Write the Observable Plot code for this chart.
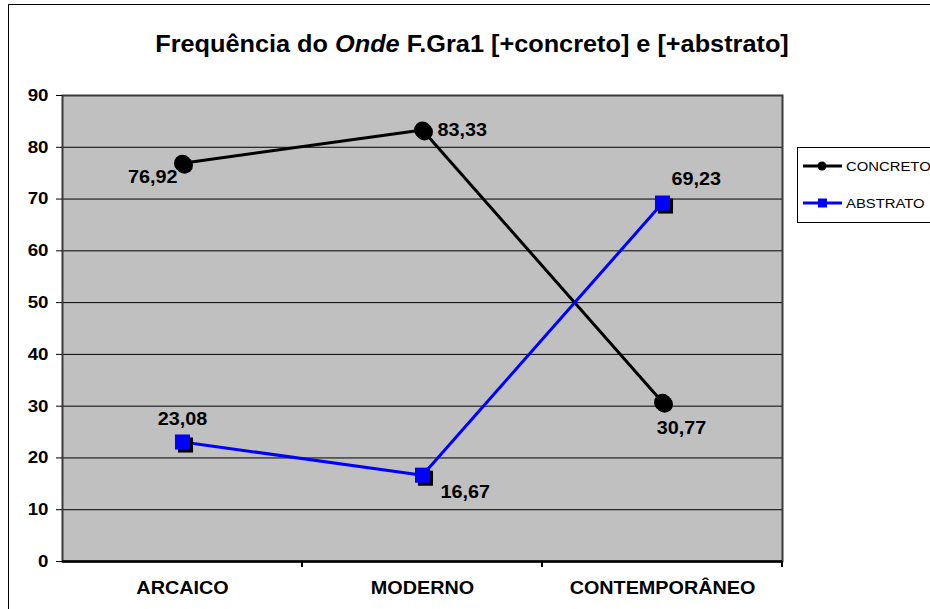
<!DOCTYPE html>
<html>
<head>
<meta charset="utf-8">
<script src="https://cdn.jsdelivr.net/npm/d3@7"></script>
<script src="https://cdn.jsdelivr.net/npm/@observablehq/plot@0.6"></script>
<style>
  html, body { margin: 0; padding: 0; background: white; }
  #chart { width: 930px; height: 609px; overflow: hidden; }
</style>
</head>
<body>
<div id="chart"></div>
<script>
// ---- data ----
const categories = ["ARCAICO", "MODERNO", "CONTEMPORÂNEO"];
const concreto = [76.92, 83.33, 30.77];
const abstrato = [23.08, 16.67, 69.23];
const seriesNames = ["CONCRETO", "ABSTRATO"];
const seriesColors = ["black", "blue"];
const yTicks = [0, 10, 20, 30, 40, 50, 60, 70, 80, 90];
const titleParts = [
  {text: "Frequência do ", italic: false},
  {text: "Onde", italic: true},
  {text: " F.Gra1 [+concreto] e [+abstrato]", italic: false}
];

// ---- tables ----
const rowsC = categories.map((c, i) => ({cat: c, v: concreto[i], serie: seriesNames[0]}));
const rowsA = categories.map((c, i) => ({cat: c, v: abstrato[i], serie: seriesNames[1]}));
const fmt = v => v.toFixed(2).replace(".", ",");

// label placement (style, per point): [dx, dy, textAnchor]
const placeC = [[-5, 14, "end"], [15, 0, "start"], [19, 26, "middle"]];
const placeA = [[0, -23, "middle"], [18, 17, "start"], [9, -24, "start"]];

const FONT = "'Liberation Sans', Arial, Helvetica, sans-serif";

function labelMarks(rows, place) {
  return rows.map((r, i) => Plot.text([r], {
    x: "cat", y: "v", text: d => fmt(d.v),
    dx: place[i][0], dy: place[i][1], textAnchor: place[i][2],
    fontSize: 18, fontWeight: "bold", fill: "black"
  }));
}

const plot = Plot.plot({
  width: 930,
  height: 609,
  marginLeft: 62,
  marginRight: 148,
  marginTop: 95,
  marginBottom: 48,
  style: {fontFamily: FONT, fontSize: "17px", fontWeight: "bold", color: "black", background: "white", overflow: "visible"},
  x: {type: "point", domain: categories, padding: 0.5, label: null},
  y: {domain: [0, 90], label: null},
  marks: [
    Plot.frame({fill: "#c0c0c0"}),
    Plot.ruleY(yTicks.filter(t => t > 0 && t < 90), {stroke: "black", strokeWidth: 1}),
    Plot.frame({stroke: "#3a3a3a", strokeWidth: 2}),
    Plot.ruleY([0], {stroke: "black", strokeWidth: 2.5}),
    Plot.axisY({ticks: yTicks, tickSize: 6, tickPadding: 8, tickFormat: d => String(d), fontSize: 17, fontWeight: "bold", label: null}),
    Plot.axisX({tickSize: 0, tickPadding: 20, fontSize: 18, fontWeight: "bold", label: null}),
    Plot.line(rowsC, {x: "cat", y: "v", stroke: seriesColors[0], strokeWidth: 3}),
    Plot.line(rowsA, {x: "cat", y: "v", stroke: seriesColors[1], strokeWidth: 3}),
    Plot.dot(rowsC, {x: "cat", y: "v", r: 8.5, fill: "black", dx: 2, dy: 2}),
    Plot.dot(rowsA, {x: "cat", y: "v", r: 8.5, symbol: "square", fill: "black", dx: 3, dy: 3}),
    Plot.dot(rowsC, {x: "cat", y: "v", r: 8.5, fill: seriesColors[0]}),
    Plot.dot(rowsA, {x: "cat", y: "v", r: 8.5, symbol: "square", fill: seriesColors[1]}),
    ...labelMarks(rowsC, placeC),
    ...labelMarks(rowsA, placeA)
  ]
});

document.getElementById("chart").appendChild(plot);
const svg = d3.select(plot);

// x-axis tick marks at the band boundaries, derived from the x scale
const xs = plot.scale("x");
const step = xs.apply(categories[1]) - xs.apply(categories[0]);
const y0 = plot.scale("y").apply(0);
svg.append("g").attr("aria-label", "x-axis ticks")
  .selectAll("line").data(categories).join("line")
  .attr("x1", d => xs.apply(d) + step / 2).attr("x2", d => xs.apply(d) + step / 2)
  .attr("y1", y0).attr("y2", y0 + 6)
  .attr("stroke", "black").attr("stroke-width", 2);

// outer chart border
svg.insert("rect", ":first-child")
  .attr("x", 8.5).attr("y", 4.5).attr("width", 1000).attr("height", 1000)
  .attr("fill", "white").attr("stroke", "black").attr("stroke-width", 1);

// title
const title = svg.append("text")
  .attr("x", 472).attr("y", 52)
  .attr("text-anchor", "middle")
  .attr("font-size", 23).attr("font-weight", "bold").attr("font-family", FONT);
titleParts.forEach(p => title.append("tspan").text(p.text).attr("font-style", p.italic ? "italic" : "normal"));

// legend
const lg = svg.append("g").attr("aria-label", "legend");
lg.append("rect").attr("x", 797.5).attr("y", 147.5).attr("width", 200).attr("height", 75)
  .attr("fill", "white").attr("stroke", "black").attr("stroke-width", 1);
seriesNames.forEach((name, i) => {
  const yy = 166 + i * 37;
  lg.append("line").attr("x1", 803).attr("x2", 842).attr("y1", yy).attr("y2", yy)
    .attr("stroke", seriesColors[i]).attr("stroke-width", 3);
  if (i === 0) {
    lg.append("circle").attr("cx", 822).attr("cy", yy).attr("r", 4.5).attr("fill", seriesColors[i]);
  } else {
    lg.append("rect").attr("x", 818).attr("y", yy - 4.5).attr("width", 9).attr("height", 9).attr("fill", seriesColors[i]);
  }
  lg.append("text").attr("x", 846).attr("y", yy).attr("dy", "0.35em")
    .attr("text-anchor", "start")
    .attr("font-size", 13.5).attr("font-weight", "normal").attr("font-family", FONT)
    .attr("fill", "black").text(name);
});

// the reference's text is slightly widened; stretch every text around its anchor
const K = 1.1;
plot.querySelectorAll("text").forEach(t => {
  const b = t.getBBox();
  const anchor = getComputedStyle(t).textAnchor;
  const ax = anchor === "middle" ? b.x + b.width / 2 : anchor === "end" ? b.x + b.width : b.x;
  const tr = t.getAttribute("transform") || "";
  t.setAttribute("transform", `${tr} translate(${ax},0) scale(${K},1) translate(${-ax},0)`);
});
</script>
</body>
</html>
